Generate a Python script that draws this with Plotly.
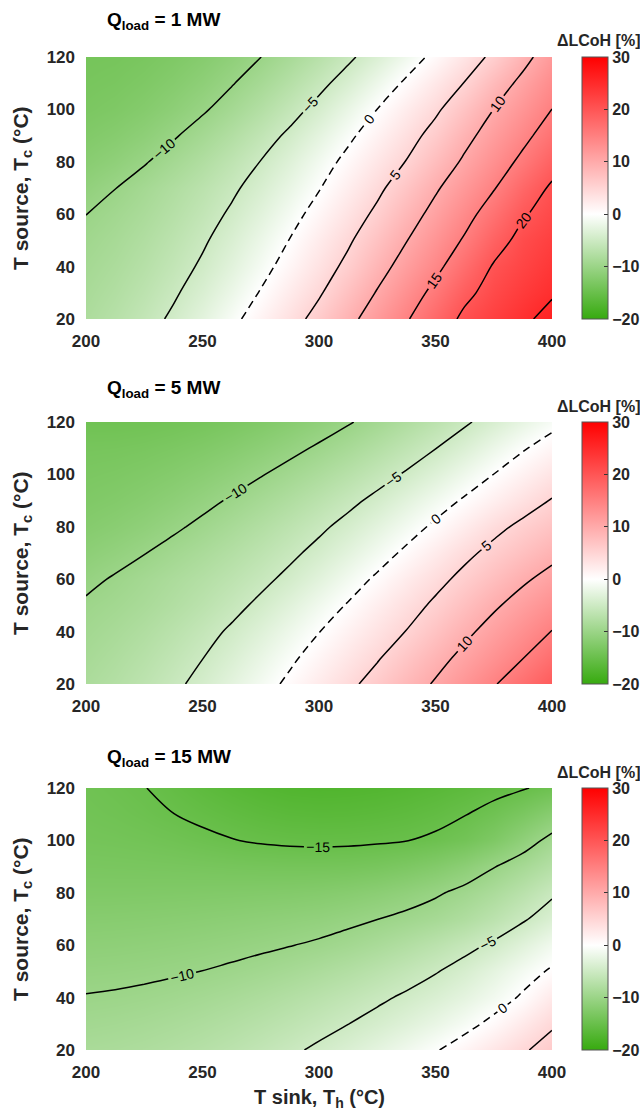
import plotly.graph_objects as go

# Sink temperature grid (°C)
t_sink = [200, 212.5, 225, 237.5, 250, 262.5, 275, 287.5, 300,
          312.5, 325, 337.5, 350, 362.5, 375, 387.5, 400]
# Source temperature grid (°C)
t_source = [20, 30, 40, 50, 60, 70, 80, 90, 100, 110, 120]

# ΔLCoH [%], one row per source temperature, one value per sink temperature
dlcoh_1mw = [
    [-8.2, -7.23, -6.02, -4.56, -2.77, -0.74, 1.43, 3.66, 6.14, 8.98, 11.82, 14.66, 17.75, 20.8, 22.6, 24.3, 26.2],
    [-8.6, -7.76, -6.68, -5.35, -3.75, -1.88, 0.18, 2.41, 4.64, 7.39, 10.23, 13.07, 16.0, 19.1, 21.4, 23.1, 24.6],
    [-9.0, -8.26, -7.28, -6.07, -4.63, -2.90, -0.97, 1.16, 3.39, 5.80, 8.64, 11.41, 14.13, 17.24, 20.3, 22.0, 23.6],
    [-9.45, -8.75, -7.83, -6.70, -5.35, -3.76, -1.92, 0.09, 2.32, 4.55, 7.17, 9.89, 12.61, 15.38, 18.5, 21.1, 22.6],
    [-10.02, -9.30, -8.42, -7.35, -6.09, -4.63, -2.93, -1.04, 1.07, 3.30, 5.65, 8.37, 11.09, 13.80, 16.67, 19.64, 21.5],
    [-10.91, -10.04, -9.03, -7.96, -6.79, -5.46, -3.92, -2.13, -0.16, 2.05, 4.29, 6.85, 9.57, 12.19, 14.79, 17.88, 20.5],
    [-11.82, -11.13, -10.18, -9.04, -7.80, -6.44, -4.94, -3.23, -1.28, 0.78, 2.93, 5.11, 7.83, 10.52, 13.13, 15.79, 18.6],
    [-12.54, -12.03, -11.27, -10.24, -9.00, -7.65, -6.17, -4.51, -2.62, -0.58, 1.55, 3.71, 6.14, 8.98, 11.6, 14.1, 16.7],
    [-13.18, -12.81, -12.21, -11.37, -10.29, -9.01, -7.57, -5.96, -4.19, -2.15, 0.02, 2.23, 4.46, 7.16, 10.02, 12.5, 15.02],
    [-13.52, -13.29, -12.83, -12.16, -11.26, -10.15, -8.84, -7.35, -5.71, -3.86, -1.76, 0.46, 2.78, 5.12, 8.10, 10.9, 13.6],
    [-13.75, -13.65, -13.33, -12.81, -12.08, -11.15, -10.02, -8.67, -7.16, -5.50, -3.62, -1.51, 0.77, 3.17, 5.75, 8.88, 12.0],
]
dlcoh_5mw = [
    [-8.3, -7.55, -6.63, -5.53, -4.26, -2.77, -1.15, 0.59, 2.43, 4.26, 6.23, 8.28, 10.35, 12.54, 14.74, 17.01, 19.3],
    [-8.75, -8.06, -7.22, -6.21, -5.05, -3.69, -2.15, -0.53, 1.20, 2.96, 4.72, 6.75, 8.84, 10.89, 12.90, 14.92, 17.1],
    [-9.2, -8.60, -7.84, -6.92, -5.86, -4.64, -3.23, -1.68, -0.07, 1.64, 3.36, 5.08, 7.17, 9.26, 11.23, 13.16, 15.1],
    [-9.7, -9.20, -8.55, -7.75, -6.81, -5.72, -4.48, -3.03, -1.44, 0.21, 1.97, 3.73, 5.56, 7.54, 9.53, 11.34, 13.1],
    [-10.52, -9.79, -9.06, -8.31, -7.51, -6.62, -5.60, -4.39, -2.92, -1.28, 0.44, 2.25, 4.06, 5.87, 7.68, 9.49, 11.1],
    [-11.37, -10.79, -10.07, -9.25, -8.43, -7.56, -6.60, -5.52, -4.28, -2.81, -1.21, 0.52, 2.39, 4.25, 5.93, 7.48, 9.04],
    [-12.15, -11.70, -11.11, -10.37, -9.51, -8.61, -7.65, -6.62, -5.49, -4.22, -2.76, -1.18, 0.51, 2.32, 4.13, 5.72, 7.1],
    [-12.72, -12.40, -11.94, -11.35, -10.61, -9.75, -8.83, -7.86, -6.80, -5.65, -4.36, -2.86, -1.28, 0.33, 1.95, 3.57, 5.2],
    [-13.15, -12.97, -12.65, -12.22, -11.65, -10.96, -10.14, -9.22, -8.25, -7.18, -6.02, -4.73, -3.24, -1.62, 0.02, 1.6, 3.2],
    [-13.6, -13.54, -13.36, -13.05, -12.63, -12.07, -11.40, -10.61, -9.69, -8.69, -7.58, -6.37, -5.05, -3.55, -1.88, -0.25, 1.2],
    [-14.31, -14.31, -14.2, -13.98, -13.64, -13.18, -12.61, -11.92, -11.12, -10.20, -9.16, -7.99, -6.73, -5.38, -3.89, -2.34, -0.8],
]
dlcoh_15mw = [
    [-8.5, -8.34, -8.08, -7.73, -7.29, -6.76, -6.13, -5.41, -4.59, -3.68, -2.65, -1.49, -0.21, 1.27, 2.98, 4.66, 6.2],
    [-9.2, -9.05, -8.82, -8.51, -8.12, -7.65, -7.12, -6.50, -5.80, -5.03, -4.18, -3.22, -2.13, -0.86, 0.68, 2.6, 4.6],
    [-9.9, -9.78, -9.60, -9.34, -9.00, -8.60, -8.12, -7.56, -6.94, -6.24, -5.46, -4.62, -3.67, -2.58, -1.25, 0.36, 2.65],
    [-10.6, -10.52, -10.39, -10.21, -9.98, -9.68, -9.31, -8.85, -8.29, -7.66, -6.92, -6.09, -5.16, -4.03, -2.62, -1.12, 0.35],
    [-11.31, -11.24, -11.13, -10.99, -10.81, -10.60, -10.35, -10.06, -9.70, -9.18, -8.52, -7.73, -6.81, -5.76, -4.60, -3.05, -1.4],
    [-12.0, -11.95, -11.88, -11.78, -11.65, -11.5, -11.33, -11.13, -10.9, -10.5, -10.03, -9.5, -8.85, -7.95, -6.75, -5.3, -3.7],
    [-12.7, -12.69, -12.66, -12.62, -12.57, -12.51, -12.44, -12.36, -12.22, -11.95, -11.55, -11.0, -10.3, -9.4, -8.3, -6.95, -5.4],
    [-13.3, -13.33, -13.37, -13.42, -13.5, -13.6, -13.68, -13.74, -13.75, -13.68, -13.45, -13.0, -12.35, -11.4, -10.1, -8.8, -7.4],
    [-13.8, -13.9, -14.05, -14.27, -14.6, -14.93, -15.2, -15.36, -15.42, -15.38, -15.25, -15.05, -14.65, -14.0, -12.85, -11.15, -9.3],
    [-14.1, -14.3, -14.6, -14.98, -15.4, -15.8, -16.15, -16.4, -16.5, -16.45, -16.3, -16.05, -15.65, -15.08, -14.3, -13.2, -11.8],
    [-14.3, -14.6, -14.95, -15.5, -16.1, -16.6, -17.0, -17.3, -17.4, -17.35, -17.2, -16.95, -16.6, -16.15, -15.65, -15.15, -14.45],
]

panel_titles = ["Q<sub>load</sub> = 1 MW", "Q<sub>load</sub> = 5 MW", "Q<sub>load</sub> = 15 MW"]
panel_data = [dlcoh_1mw, dlcoh_5mw, dlcoh_15mw]

x_ticks = [200, 250, 300, 350, 400]
y_ticks = [20, 40, 60, 80, 100, 120]
cbar_ticks = [-20, -10, 0, 10, 20, 30]

W, H = 640, 1115
FONT = "Liberation Sans, Arial, sans-serif"
TXT = "#262626"

colorscale = [[0.0, "rgb(55,170,15)"], [0.4, "rgb(255,255,255)"], [1.0, "rgb(255,0,0)"]]

# panel pixel extents (top, bottom) and horizontal extent
x_left, x_right = 86, 552
panels_px = [(57, 319), (422, 684), (788, 1050)]
title_px = [21, 389, 758]

def py(px):
    return 1 - px / H

fig = go.Figure()
annotations = []

for i, (z, (top, bot)) in enumerate(zip(panel_data, panels_px)):
    n = "" if i == 0 else str(i + 1)
    xa, ya = "x" + n, "y" + n
    fig.add_trace(go.Heatmap(
        x=t_sink, y=t_source, z=z, zsmooth="best",
        zmin=-20, zmax=30, colorscale=colorscale, hoverinfo="skip",
        xaxis=xa, yaxis=ya,
        colorbar=dict(
            x=582 / W, xanchor="left", xpad=0, ypad=0,
            y=py((top + bot) / 2), yanchor="middle",
            len=(bot - top) / H, lenmode="fraction",
            thickness=26, thicknessmode="pixels",
            outlinewidth=1, outlinecolor="#555555",
            tickvals=cbar_ticks, ticks="inside", ticklen=4, tickcolor="#333333",
            tickfont=dict(family=FONT, size=16, color=TXT, weight="bold"),
        ),
    ))
    # negative and positive levels solid, zero level dashed
    line_sets = [
        (-20, -5, "solid"),
        (5, 30, "solid"),
        (0, 0.5, "8px,5px"),
    ]
    for start, end, dash in line_sets:
        fig.add_trace(go.Contour(
            x=t_sink, y=t_source, z=z, xaxis=xa, yaxis=ya,
            showscale=False, hoverinfo="skip",
            contours=dict(coloring="none", start=start, end=end, size=5,
                          showlabels=True,
                          labelfont=dict(family=FONT, size=14, color="black")),
            line=dict(color="black", width=1.5, dash=dash, smoothing=1),
        ))

    ax_common = dict(showgrid=False, zeroline=False, showline=False, ticks="")
    fig.layout["xaxis" + n] = dict(
        ax_common, domain=[x_left / W, x_right / W], range=[200, 400],
        tickvals=x_ticks, anchor=ya, ticklabelstandoff=10,
        tickfont=dict(family=FONT, size=17, color=TXT, weight="bold"),
    )
    fig.layout["yaxis" + n] = dict(
        ax_common, domain=[py(bot), py(top)], range=[20, 120],
        tickvals=y_ticks, anchor=xa, ticklabelstandoff=10,
        tickfont=dict(family=FONT, size=17, color=TXT, weight="bold"),
    )

    annotations.append(dict(
        text="<b>" + panel_titles[i] + "</b>", xref="paper", yref="paper",
        x=105 / W, y=py(title_px[i]), xanchor="left", yanchor="middle",
        showarrow=False, font=dict(family=FONT, size=19, color="black"),
    ))
    annotations.append(dict(
        text="<b>ΔLCoH [%]</b>", xref="paper", yref="paper",
        x=598 / W, y=py(top - 16), xanchor="center", yanchor="middle",
        showarrow=False, font=dict(family=FONT, size=16, color=TXT),
    ))
    annotations.append(dict(
        text="<b>T source, T<sub>c</sub> (°C)</b>", xref="paper", yref="paper",
        x=22 / W, y=py((top + bot) / 2), xanchor="center", yanchor="middle",
        textangle=-90, showarrow=False,
        font=dict(family=FONT, size=21, color=TXT),
    ))

annotations.append(dict(
    text="<b>T sink, T<sub>h</sub> (°C)</b>", xref="paper", yref="paper",
    x=319 / W, y=py(1098), xanchor="center", yanchor="middle",
    showarrow=False, font=dict(family=FONT, size=20, color=TXT),
))

fig.update_layout(
    width=W, height=H,
    margin=dict(l=0, r=0, t=0, b=0, autoexpand=False),
    paper_bgcolor="white", plot_bgcolor="white",
    showlegend=False, annotations=annotations,
)

fig.write_html("out.html")
